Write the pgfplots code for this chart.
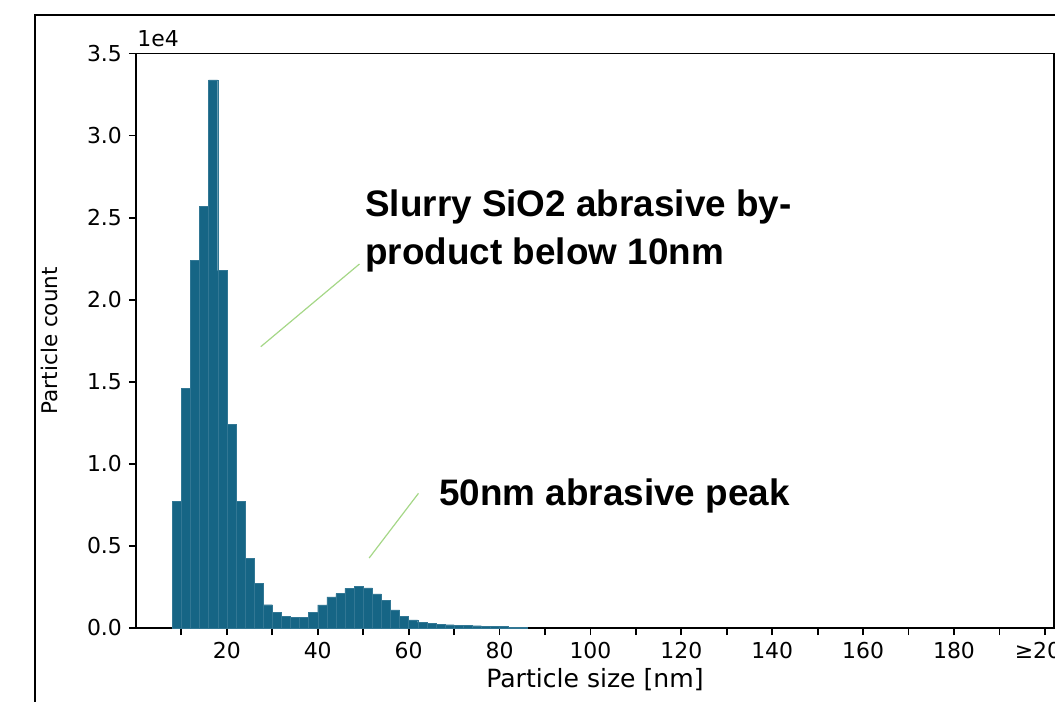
\documentclass[border=0pt]{standalone}
\usepackage{pgfplots}
\pgfplotsset{compat=1.18}
\usepackage{fontspec}
\setmainfont{DejaVu Sans}
\newfontfamily\annotfont{Liberation Sans}
\definecolor{barblue}{RGB}{22,101,133}
\definecolor{leadgreen}{RGB}{165,215,135}

\begin{document}
\begin{tikzpicture}[x=1bp,y=1bp]
\useasboundingbox (0,0) rectangle (527.5,350.5);
\draw[line width=0.8bp] (17.5,-20) rectangle (560,343);
\begin{axis}[
  at={(67.95bp,36.5bp)}, anchor=south west,
  scale only axis, width=459.05bp, height=287.25bp,
  xmin=0, xmax=202, ymin=0, ymax=35000,
  axis line style={line width=0.8bp},
  tick style={black, line width=0.9bp},
  tick align=outside, major tick length=3.5bp,
  xtick pos=bottom, ytick pos=left,
  xtick={10,20,30,40,50,60,70,80,90,100,110,120,130,140,150,160,170,180,190,200},
  xticklabels={,20,,40,,60,,80,,100,,120,,140,,160,,180,,≥200},
  ytick={0,5000,10000,15000,20000,25000,30000,35000},
  yticklabels={0.0,0.5,1.0,1.5,2.0,2.5,3.0,3.5},
  scaled y ticks=false,
  tick label style={font=\fontsize{11}{13}\selectfont},
  xlabel={Particle size [nm]},
  xlabel style={font=\fontsize{12.6}{15}\selectfont, at={(axis description cs:0.5,-0.1044)}, anchor=base},
  ylabel={Particle count},
  ylabel style={font=\fontsize{10.8}{13}\selectfont, at={(axis description cs:-0.0937,0.5)}, anchor=center},
  clip=false,
]
\addplot[ybar interval, fill=barblue, draw=barblue!88!white, line width=0.2bp] coordinates {
(8,7730) (10,14590) (12,22410) (14,25700) (16,33400) (18,21770) (20,12390)
(22,7730) (24,4250) (26,2720) (28,1420) (30,950) (32,690) (34,630) (36,670)
(38,960) (40,1410) (42,1890) (44,2100) (46,2420) (48,2550) (50,2440)
(52,2080) (54,1670) (56,1100) (58,690) (60,490) (62,350) (64,290) (66,240)
(68,200) (70,180) (72,160) (74,140) (76,120) (78,100) (80,80) (82,60) (84,40) (86,0)
};
\draw[leadgreen, line width=0.6bp] (axis cs:27.48,17138) -- (axis cs:49.19,22176);
\draw[leadgreen, line width=0.6bp] (axis cs:51.32,4265) -- (axis cs:62.17,8206);
\end{axis}
\node[anchor=base west, inner sep=0, font=\fontsize{11}{13}\selectfont] at (68.5,327.2) {1e4};
\node[anchor=base west, inner sep=0, font=\annotfont\bfseries\fontsize{18.5}{22}\selectfont] at (182.5,242.3) {Slurry SiO2 abrasive by-};
\node[anchor=base west, inner sep=0, font=\annotfont\bfseries\fontsize{18.5}{22}\selectfont] at (182.5,218.5) {product below 10nm};
\node[anchor=base west, inner sep=0, font=\annotfont\bfseries\fontsize{18.5}{22}\selectfont] at (219.5,98) {50nm abrasive peak};
\end{tikzpicture}
\end{document}
